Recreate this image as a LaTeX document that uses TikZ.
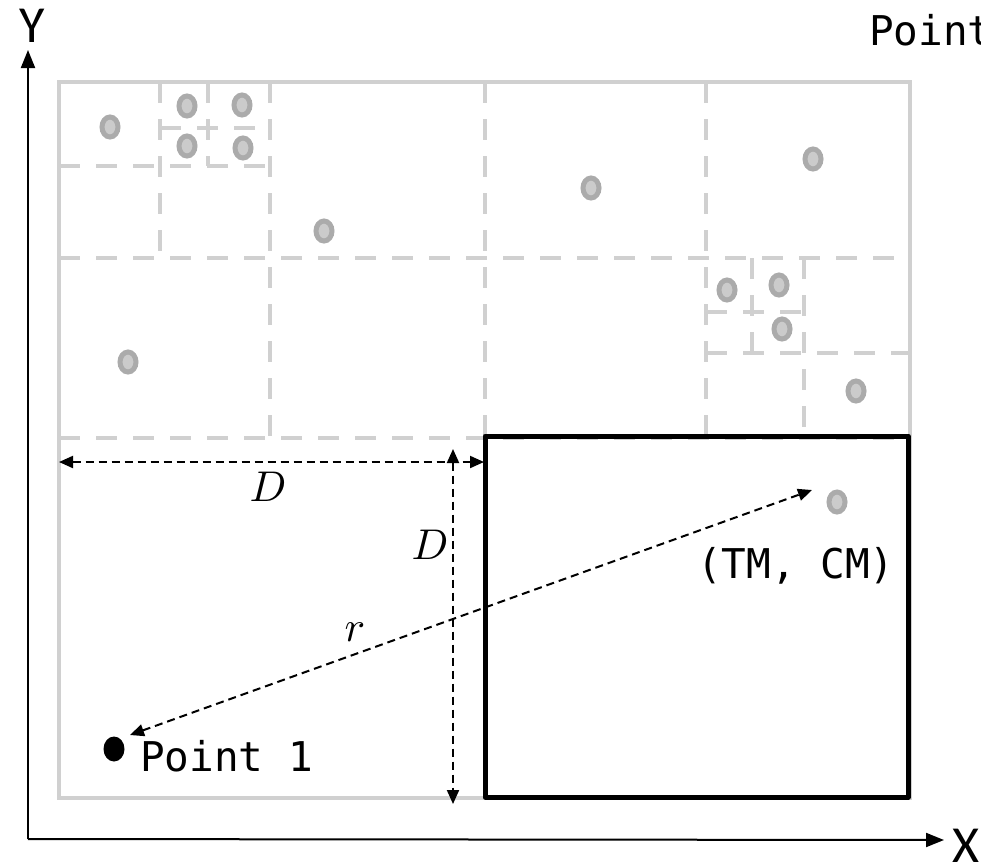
\documentclass[tikz,border=0pt]{standalone}
\usepackage{fontspec}
\setmonofont{DejaVu Sans Mono}
\newfontfamily\axisfont{Carlito}
\usetikzlibrary{arrows.meta,shapes.geometric}
\definecolor{framegray}{HTML}{D0D0D0}
\definecolor{ringgray}{HTML}{ABABAB}
\definecolor{fillgray}{HTML}{CBCBCB}
\begin{document}
\begin{tikzpicture}[x=1pt,y=-1pt,
  frame/.style={draw=framegray,line width=4pt},
  gridline/.style={draw=framegray,line width=4pt,dash pattern=on 21pt off 16pt},
  gpt/.style={ellipse,draw=ringgray,fill=fillgray,line width=5pt,minimum width=16pt,minimum height=20pt,inner sep=0pt},
  bpt/.style={ellipse,fill=black,minimum width=21pt,minimum height=25pt,inner sep=0pt},
  axis/.style={draw=black,line width=2pt,-{Triangle[length=18pt,width=14pt]}},
  measure/.style={draw=black,line width=2pt,dash pattern=on 8pt off 5pt,
     {Triangle[length=14pt,width=12pt]}-{Triangle[length=14pt,width=12pt]}},
  monolabel/.style={inner sep=0pt,font=\ttfamily\fontsize{41}{48}\selectfont},
  axislabel/.style={inner sep=0pt,font=\axisfont\fontsize{52}{60}\selectfont},
  mathlabel/.style={inner sep=0pt}
]
\useasboundingbox (0,0) rectangle (981,863);

% outer frame
\draw[frame] (59,82) rectangle (910,798);

% grid (level 1)
\draw[gridline] (59,258) -- (910,258);
\draw[gridline] (59,438) -- (910,438);
\draw[gridline] (270,82) -- (270,438);
\draw[gridline] (485,82) -- (485,438);
\draw[gridline] (706,82) -- (706,438);
% top-left subdivision
\draw[gridline] (59,166) -- (270,166);
\draw[gridline] (160,82) -- (160,258);
\draw[gridline] (160,128) -- (270,128);
\draw[gridline] (208,82) -- (208,166);
% right subdivision
\draw[gridline] (706,353) -- (910,353);
\draw[gridline] (804,258) -- (804,438);
\draw[gridline] (706,312) -- (804,312);
\draw[gridline] (752,258) -- (752,353);

% highlighted cell
\draw[line width=5pt,line join=round] (485,436) rectangle (908,797);

% gray points
\node[gpt] (g1) at (110,127) {};
\node[gpt] (g2) at (187,106) {};
\node[gpt] (g3) at (242,105) {};
\node[gpt] (g4) at (187,146) {};
\node[gpt] (g5) at (243,148) {};
\node[gpt] (g6) at (324,231) {};
\node[gpt] (g7) at (591,188) {};
\node[gpt] (g8) at (813,159) {};
\node[gpt] (g9) at (128,362) {};
\node[gpt] (g10) at (727,290) {};
\node[gpt] (g11) at (779,285) {};
\node[gpt] (g12) at (782,329) {};
\node[gpt] (g13) at (856,391) {};
\node[gpt] (tm) at (837,502) {};

% point 1
\node[bpt] (p1) at (114,749) {};
\node[monolabel,anchor=base west] (p1lab) at (140,771) {Point 1};
\node[monolabel,anchor=base west] (tmlab) at (697,578) {(TM, CM)};
\node[monolabel,anchor=base west] (p2lab) at (869,45) {Point};

% axes
\coordinate (O) at (28,839);
\coordinate (ytip) at (28,50);
\coordinate (xtip) at (944,840);
\draw[axis] (O) -- (ytip);
\draw[axis] (O) -- (xtip);
\node[axislabel,anchor=base] (ylab) at (32,42) {Y};
\node[axislabel,anchor=base west] (xlab) at (952,862) {X};

% measures
\coordinate (hl) at (59,462);
\coordinate (hr) at (484,462);
\coordinate (vt) at (453,449);
\coordinate (vb) at (453,804);
\coordinate (rt) at (812,490);
\coordinate (rb) at (130,735);
\draw[measure] (hl) -- (hr);
\draw[measure] (vt) -- (vb);
\draw[measure] (rb) -- (rt);
\node[mathlabel] (dh) at (268,487) {\scalebox{4.3}{$D$}};
\node[mathlabel] (dv) at (430,545) {\scalebox{4.3}{$D$}};
\node[mathlabel] (rl) at (355,632) {\scalebox{4.3}{$r$}};
\end{tikzpicture}
\end{document}
